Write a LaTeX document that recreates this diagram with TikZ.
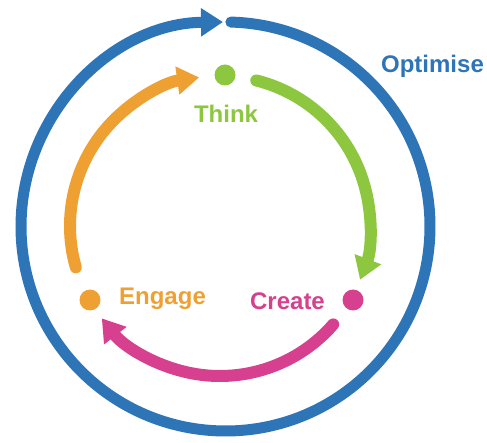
\documentclass[tikz,border=0pt]{standalone}
\usepackage{fontspec}
\setmainfont{Liberation Sans}
\usepackage{xcolor}
\usepackage{tikz}
\usetikzlibrary{arrows.meta}
\definecolor{optblue}{RGB}{46,117,184}
\definecolor{thinkgreen}{RGB}{141,198,63}
\definecolor{createpink}{RGB}{214,64,143}
\definecolor{engageorange}{RGB}{238,160,50}

\begin{document}
\begin{tikzpicture}[x=1pt, y=1pt, >={Triangle[length=22pt,width=27pt]},
	loop/.style={line width=12pt, line cap=round},
	dot/.style={circle, minimum size=21pt, inner sep=0pt},
	lbl/.style={font=\bfseries\fontsize{24}{24}\selectfont, anchor=base}]
		\useasboundingbox (0,0) rectangle (487,442);

		%coordinates
		\coordinate (outC)    at (225.5,215.5);
		\coordinate (inC)     at (220,216);

		\coordinate (optS)    at ([shift={(88.5:204.5)}]outC);
		\coordinate (thinkS)  at ([shift={(76:150)}]inC);
		\coordinate (createS) at ([shift={(-41:150)}]inC);
		\coordinate (engageS) at ([shift={(196:150)}]inC);

		%nodes
		\node[dot, fill=thinkgreen]   (think)  at (225,367) {};
		\node[dot, fill=createpink]   (create) at (353,142) {};
		\node[dot, fill=engageorange] (engage) at (90,142) {};

		\node[lbl, text=thinkgreen]   (thinkLbl)  at (226,319)   {Think};
		\node[lbl, text=createpink]   (createLbl) at (287.5,132) {Create};
		\node[lbl, text=engageorange] (engageLbl) at (162.5,137) {Engage};
		\node[lbl, text=optblue]      (optLbl)    at (432.5,369) {Optimise};

		%arcs
		\draw[loop, optblue, line width=11pt, ->] (optS) arc[start angle=88.5, end angle=-269.3, radius=204.5];
		\draw[loop, thinkgreen, ->] (thinkS) arc[start angle=76, end angle=-21, radius=150];
		\draw[loop, createpink, ->] (createS) arc[start angle=-41, end angle=-142, radius=150];
		\draw[loop, engageorange, ->] (engageS) arc[start angle=196, end angle=98, radius=150];
\end{tikzpicture}
\end{document}
